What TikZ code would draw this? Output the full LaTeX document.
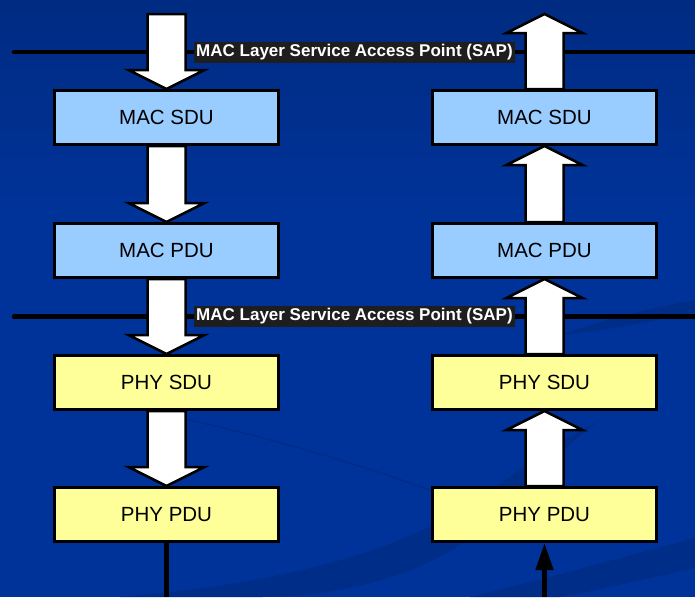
\documentclass[tikz,border=0pt]{standalone}
\usepackage{fontspec}
\setmainfont{Liberation Sans}
\usetikzlibrary{arrows.meta,calc}

\definecolor{slideblue}{RGB}{0,51,153}
\definecolor{slidetop}{RGB}{0,43,130}
\definecolor{slidedeep}{RGB}{0,45,136}
\definecolor{macfill}{RGB}{153,204,255}
\definecolor{phyfill}{RGB}{255,255,153}
\definecolor{sapbg}{RGB}{30,30,30}

\pgfdeclarelayer{backdrop}
\pgfdeclarelayer{flow}
\pgfsetlayers{backdrop,flow,main}

\tikzset{
  pdubox/.style={draw=black, line width=3pt, minimum width=224pt,
    minimum height=54pt, inner sep=0pt,
    font=\fontsize{20.5}{24}\selectfont},
  macbox/.style={pdubox, fill=macfill},
  phybox/.style={pdubox, fill=phyfill},
  sapline/.style={line width=4.5pt, line cap=round},
  saplabel/.style={fill=sapbg, text=white, inner xsep=2pt, inner ysep=0pt,
    minimum height=21pt, font=\bfseries\fontsize{17}{20}\selectfont},
  fatarrow/.style={fill=white, draw=black, line width=2.5pt, line join=miter},
  wire/.style={line width=4.5pt},
  swoosh/.style={fill=slidedeep},
}

% hollow block arrow between two vertically aligned points
\newcommand\blockarrow[2]{%
  \path[fatarrow] let \p1=#1, \p2=#2, \n1={sign(\y2-(\y1))} in
    ({\x1-19pt},\y1) -- ({\x1-19pt},{\y2-(\n1)*19pt})
    -- ({\x1-38pt},{\y2-(\n1)*19pt}) -- (\x2,\y2)
    -- ({\x1+38pt},{\y2-(\n1)*19pt}) -- ({\x1+19pt},{\y2-(\n1)*19pt})
    -- ({\x1+19pt},\y1) -- cycle;}

\begin{document}
\begin{tikzpicture}[x=1pt, y=-1pt]
\useasboundingbox (0,0) rectangle (695,597);

% sending side (left) and receiving side (right)
\node[macbox] (macsduL) at (166.5,117.5) {MAC SDU};
\node[macbox] (macpduL) at (166.5,250.5) {MAC PDU};
\node[phybox] (physduL) at (166.5,382.5) {PHY SDU};
\node[phybox] (phypduL) at (166.5,514.5) {PHY PDU};

\node[macbox] (macsduR) at (544.5,117.5) {MAC SDU};
\node[macbox] (macpduR) at (544.5,250.5) {MAC PDU};
\node[phybox] (physduR) at (544.5,382.5) {PHY SDU};
\node[phybox] (phypduR) at (544.5,514.5) {PHY PDU};

% free ends
\coordinate (inL)   at (166.5,14);
\coordinate (outR)  at (544.5,14);
\coordinate (wireL) at (166.5,597);
\coordinate (wireR) at (544.5,597);
\coordinate (sapAw) at (14,52);
\coordinate (sapAe) at (697,52);
\coordinate (sapBw) at (14,316.5);
\coordinate (sapBe) at (697,316.5);

% service access point labels
\node[saplabel] (sapA) at (354.5,52.5) {MAC Layer Service Access Point (SAP)};
\node[saplabel] (sapB) at (354.5,316.5) {MAC Layer Service Access Point (SAP)};

\begin{pgfonlayer}{backdrop}
  \fill[slideblue] (0,0) rectangle (695,597);
  \shade[top color=slidetop, bottom color=slideblue] (0,0) rectangle (695,220);
  % soft swooshes of the slide background
  \fill[swoosh] (120,597) .. controls (260,585) and (380,560) .. (470,505)
     .. controls (520,470) and (560,440) .. (600,420)
     .. controls (560,450) and (520,490) .. (480,530)
     .. controls (420,580) and (330,597) .. (260,597) -- cycle;
  \fill[swoosh] (470,597) .. controls (560,575) and (630,555) .. (695,538)
     -- (695,568) .. controls (640,580) and (600,590) .. (560,597) -- cycle;
  \draw[slidedeep, line width=1.5pt] (180,418) .. controls (280,440) and (380,470) .. (470,505);
  \fill[swoosh] (560,335) .. controls (610,318) and (650,308) .. (695,300)
     -- (695,312) .. controls (650,322) and (610,330) .. cycle;
  % layer boundaries
  \draw[sapline] (sapAw) -- (sapAe);
  \draw[sapline] (sapBw) -- (sapBe);
\end{pgfonlayer}

\begin{pgfonlayer}{flow}
  \blockarrow{(inL)}{(macsduL.north)}
  \blockarrow{(macsduL.south)}{(macpduL.north)}
  \blockarrow{(macpduL.south)}{(physduL.north)}
  \blockarrow{(physduL.south)}{(phypduL.north)}
  \blockarrow{(phypduR.north)}{(physduR.south)}
  \blockarrow{(physduR.north)}{(macpduR.south)}
  \blockarrow{(macpduR.north)}{(macsduR.south)}
  \blockarrow{(macsduR.north)}{(outR)}
\end{pgfonlayer}

% physical medium
\draw[wire] (phypduL.south) -- (wireL);
\draw[wire, -{Triangle[length=27pt, width=17pt]}] (wireR) -- (phypduR.south);
\end{tikzpicture}
\end{document}
